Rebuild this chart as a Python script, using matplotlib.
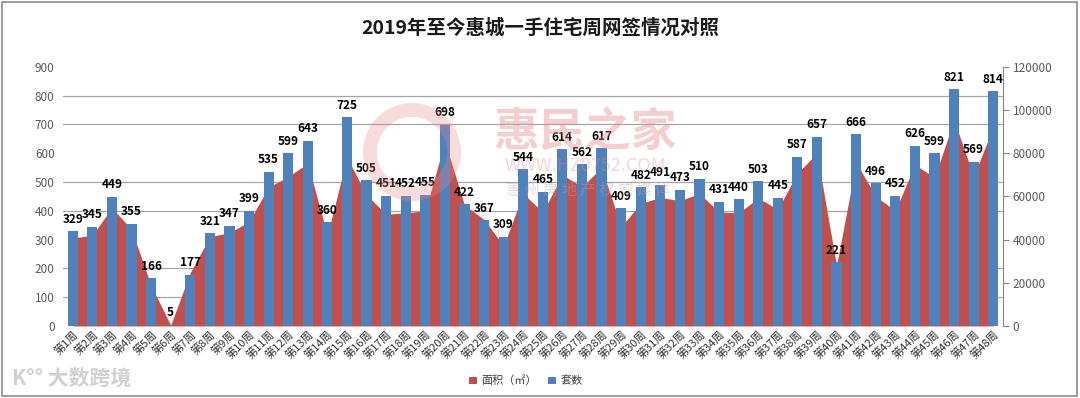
import numpy as np
import matplotlib
matplotlib.use("Agg")
import matplotlib.pyplot as plt
from matplotlib.patches import Rectangle, Ellipse

plt.rcParams['font.family'] = ['Noto Sans CJK SC', 'DejaVu Sans']

# weekly data, 2019
weeks = ["第%d周" % i for i in range(1, 49)]
units = [329, 345, 449, 355, 166, 5, 177, 321, 347, 399,
         535, 599, 643, 360, 725, 505, 451, 452, 455, 698,
         422, 367, 309, 544, 465, 614, 562, 617, 409, 482,
         491, 473, 510, 431, 440, 503, 445, 587, 657, 221,
         666, 496, 452, 626, 599, 821, 569, 814]
# floor area (m2)
area = [40700, 42000, 54700, 44700, 18700, 400, 24700, 41300, 43200, 48300,
        64300, 69100, 75300, 42000, 78000, 60700, 51700, 52400, 53300, 85300,
        56000, 49300, 37100, 61300, 52700, 70000, 64400, 73300, 46000, 56700,
        59500, 58000, 61300, 52800, 52300, 59200, 54000, 70700, 80000, 28000,
        75700, 60000, 53300, 74700, 68700, 95300, 69300, 92000]

blue = '#4F81BD'
red = '#C0504D'
grid_c = '#A6A6A6'
tick_c = '#595959'

fig = plt.figure(figsize=(10.8, 3.98), dpi=100)
ax2 = fig.add_axes([0.0583, 0.181, 0.8704, 0.6514])   # area, right axis (drawn below)
ax = fig.add_axes(ax2.get_position(), sharex=ax2)     # bars, left axis (drawn on top)
ax.set_zorder(ax2.get_zorder() + 1)
ax.patch.set_visible(False)

x = np.arange(len(weeks))

# area series on the right axis
ax2.fill_between(x, area, 0, color=red, linewidth=0, label='面积（㎡）', zorder=2)
ax2.set_ylim(0, 120000)
ax2.set_yticks(np.arange(0, 120001, 20000))
ax2.set_yticks(np.linspace(0, 120000, 10), minor=True)
ax2.grid(which='minor', axis='y', color=grid_c, linewidth=0.9, zorder=0)
ax2.yaxis.tick_right()
ax2.tick_params(axis='y', which='major', direction='out', length=4, color='#868686',
                labelsize=8.5, labelcolor=tick_c, pad=3)
ax2.tick_params(axis='y', which='minor', length=0)
for s in ['top', 'left', 'bottom']:
    ax2.spines[s].set_visible(False)
ax2.spines['right'].set_color('#868686')
ax2.tick_params(axis='x', length=0, labelbottom=False)

# bars on the left axis
bars = ax.bar(x, units, width=0.52, color=blue, label='套数', zorder=3)
ax.bar_label(bars, padding=4, fontsize=8.5, fontweight='bold', color='black')
ax.set_ylim(0, 900)
ax.set_yticks(np.arange(0, 901, 100))
ax.tick_params(axis='y', length=0, labelsize=8.5, labelcolor=tick_c, pad=6)
ax.set_xlim(-0.5, len(weeks) - 0.5)
ax.set_xticks(x)
ax.set_xticklabels(weeks, rotation=45, ha='right', rotation_mode='anchor',
                   fontsize=8, color='#333333')
ax.tick_params(axis='x', length=0, pad=2)
for s in ['top', 'left', 'right', 'bottom']:
    ax.spines[s].set_visible(False)

fig.suptitle('2019年至今惠城一手住宅周网签情况对照', x=0.5, y=0.955,
             fontsize=14, fontweight='bold', color='#1a1a1a')

h1, l1 = ax2.get_legend_handles_labels()
h2, l2 = ax.get_legend_handles_labels()
fig.legend(h1 + h2, l1 + l2, loc='center', bbox_to_anchor=(0.487, 0.043), ncol=2,
           frameon=False, fontsize=8, handlelength=0.7, handleheight=0.7,
           handletextpad=0.4, columnspacing=1.0, labelcolor='#404040')

# faint watermarks
wm = '#E8888A'
fig.patches.append(Ellipse((412 / 1080, 1 - 152 / 398), 84 / 1080, 84 / 398,
                           transform=fig.transFigure, fill=False, edgecolor=wm,
                           linewidth=10, alpha=0.3, zorder=10))
fig.text(585 / 1080, 1 - 133 / 398, '惠民之家', fontsize=33, fontweight='bold',
         color=wm, alpha=0.4, ha='center', va='center', zorder=10)
fig.text(585 / 1080, 1 - 166 / 398, 'WWW.HZ0752.COM', fontsize=13,
         color=wm, alpha=0.35, ha='center', va='center', zorder=10)
fig.text(588 / 1080, 1 - 190 / 398, '惠 州 房 地 产 权 威 媒 体', fontsize=11,
         color='#C8A0A0', alpha=0.4, ha='center', va='center', zorder=10)
fig.text(12 / 1080, 1 - 378 / 398, 'K°° 大数跨境', fontsize=15, fontweight='bold',
         color='#D0D0D0', ha='left', va='center', zorder=10)

# outer chart frame
fig.patches.append(Rectangle((0.002, 0.004), 0.995, 0.99, transform=fig.transFigure,
                             fill=False, edgecolor='#8C8C8C', linewidth=1.2))

fig.savefig('out.png', dpi=100)
